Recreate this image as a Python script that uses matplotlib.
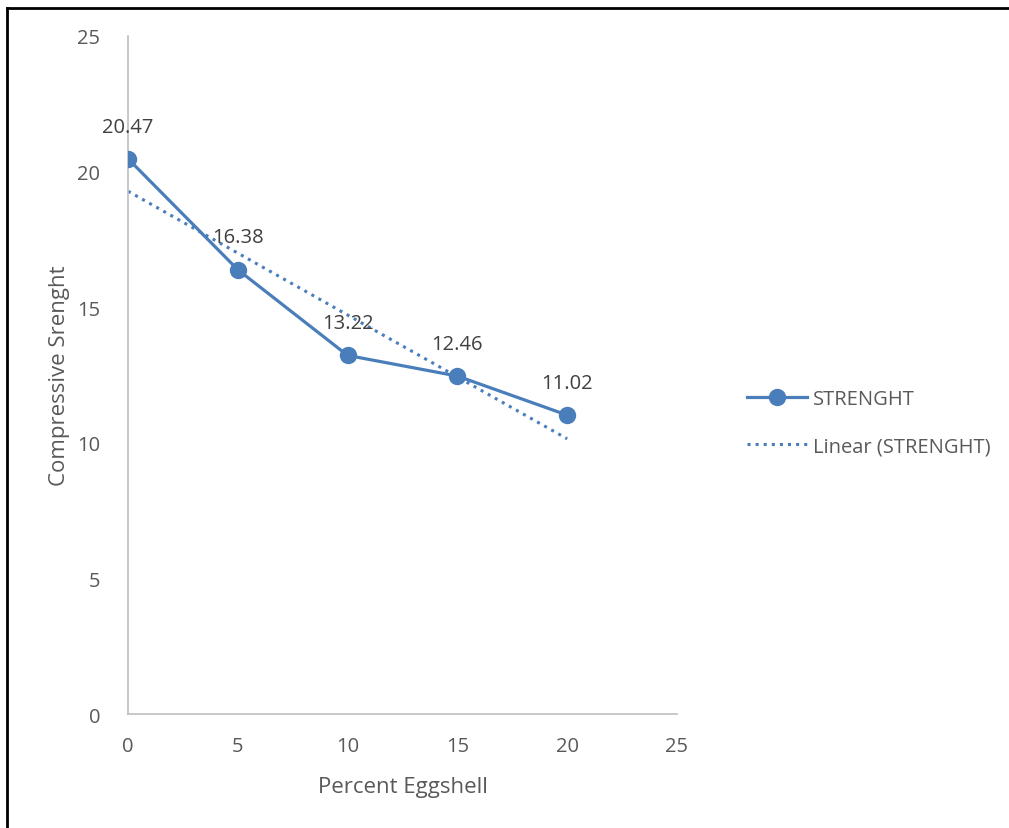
import numpy as np
import matplotlib.pyplot as plt
from matplotlib.lines import Line2D

plt.rcParams['font.family'] = ['Open Sans', 'DejaVu Sans']

# data
percent = [0, 5, 10, 15, 20]
strength = [20.47, 16.38, 13.22, 12.46, 11.02]
x_ticks = [0, 5, 10, 15, 20, 25]
y_ticks = [0, 5, 10, 15, 20, 25]

BLUE = '#4a7ebb'
TEXT = '#595959'

fig = plt.figure(figsize=(10.09, 8.29), dpi=100)
ax = fig.add_axes([0.1269, 0.1375, 0.544, 0.818])

ax.plot(percent, strength, '-o', color=BLUE, linewidth=2.3, markersize=11.5,
        label='STRENGHT', zorder=3)

# linear trend line
slope, intercept = np.polyfit(percent, strength, 1)
xs = np.array([percent[0], percent[-1]])
ax.plot(xs, slope * xs + intercept, ':', color=BLUE, linewidth=2.2,
        label='Linear (STRENGHT)', zorder=2)

for x, y in zip(percent, strength):
    ax.annotate(f'{y:.2f}', (x, y), xytext=(0, 16), textcoords='offset points',
                ha='center', va='bottom', fontsize=14.5, color='#404040')

ax.set_xlim(0, 25)
ax.set_ylim(0, 25)
ax.set_xticks(x_ticks)
ax.set_yticks(y_ticks)
ax.tick_params(length=0, labelsize=14.5, labelcolor=TEXT, pad=16)
ax.tick_params(axis='y', pad=20)
for s in ['top', 'right']:
    ax.spines[s].set_visible(False)
for s in ['left', 'bottom']:
    ax.spines[s].set_color('#bfbfbf')
    ax.spines[s].set_linewidth(1.2)

ax.set_xlabel('Percent Eggshell', fontsize=16, color=TEXT, labelpad=14)
ax.set_ylabel('Compressive Srenght', fontsize=16, color=TEXT, labelpad=5)

leg = fig.legend(loc='center left', bbox_to_anchor=(0.722, 0.489), frameon=False,
                 fontsize=14.5, labelcolor=TEXT, handlelength=3.0, labelspacing=1.35,
                 handletextpad=0.3)

# outer frame (top and left edges visible)
fig.add_artist(Line2D([0.007, 1.0], [0.9895, 0.9895], color='black', linewidth=2,
                      transform=fig.transFigure))
fig.add_artist(Line2D([0.007, 0.007], [0.0, 0.9895], color='black', linewidth=2,
                      transform=fig.transFigure))

fig.savefig('out.png', dpi=100)
